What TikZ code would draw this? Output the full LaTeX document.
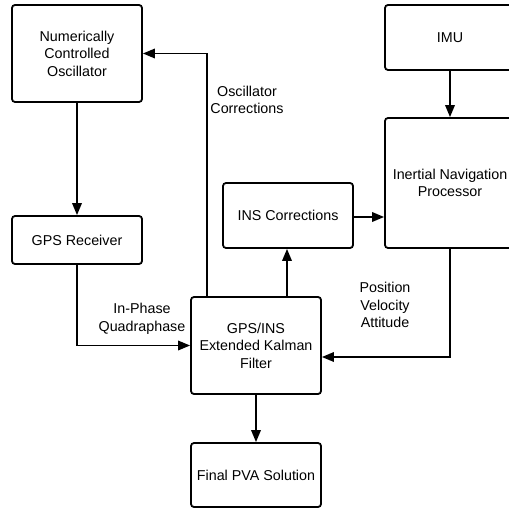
\documentclass[tikz,border=0pt]{standalone}
\usepackage{fontspec}
\setmainfont{Liberation Sans}
\usetikzlibrary{arrows.meta,calc}
\begin{document}
\begin{tikzpicture}[x=1bp,y=-1bp,
  every node/.style={font=\fontsize{14.3bp}{17.5bp}\selectfont},
  box/.style={draw, line width=1.8bp, rounded corners=3bp, minimum width=130bp, align=center, inner sep=0pt},
  conn/.style={line width=1.8bp, -{Triangle[length=12bp,width=9.5bp]}},
  lbl/.style={align=center, inner sep=0pt}]
\useasboundingbox (0,0) rectangle (509,508);
\clip (0,0) rectangle (509,508);
\node[box, minimum height=97bp] (nco) at (77,53.5) {Numerically\\Controlled\\Oscillator};
\node[box, minimum height=48bp] (gps) at (77,240) {GPS Receiver};
\node[box, minimum height=65bp] (insc) at (288,215.5) {INS Corrections};
\node[box, minimum height=65bp] (imu) at (450,37.5) {IMU};
\node[box, minimum height=130bp] (inp) at (450,183) {Inertial Navigation\\Processor};
\node[box, minimum height=97bp] (ekf) at (256,345.5) {GPS/INS\\Extended Kalman\\Filter};
\node[box, minimum height=64bp] (pva) at (256,475) {Final PVA Solution};
\node[lbl] (lo) at (247,100) {Oscillator\\Corrections};
\node[lbl] (lq) at (142,319) {In-Phase\\Quadraphase};
\node[lbl] (lp) at (385,305) {Position\\Velocity\\Attitude};
\draw[conn] (nco.south) -- (gps.north);
\draw[conn] (gps.south) |- (ekf.west);
\draw[conn] (imu.south) -- (inp.north);
\draw[conn] (inp.south) |- ([yshift=-11.5bp]ekf.east);
\draw[conn] ([xshift=-49bp]ekf.north) |- (nco.east);
\draw[conn] ([xshift=31bp]ekf.north) -- ([xshift=-1bp]insc.south);
\draw[conn] ([yshift=-1.5bp]insc.east) -- ([yshift=-1.5bp]insc.east -| inp.west);
\draw[conn] (ekf.south) -- (pva.north);
\end{tikzpicture}
\end{document}
